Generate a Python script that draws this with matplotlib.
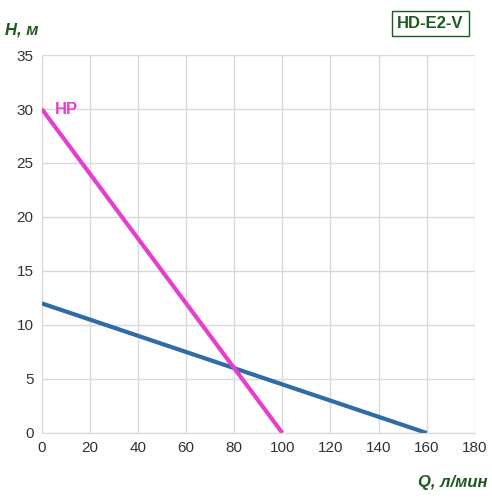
import matplotlib
matplotlib.use("Agg")
import matplotlib.pyplot as plt

# ── Data ──────────────────────────────────────────────────────────────────────
q_blue = [0, 160]
h_blue = [12, 0]
q_hp = [0, 100]
h_hp = [30, 0]

x_ticks = list(range(0, 181, 20))
y_ticks = list(range(0, 36, 5))

GREEN = "#1e5a1e"
BLUE = "#2e6da4"
MAGENTA = "#e83ecf"

plt.rcParams["font.family"] = ["Liberation Sans", "DejaVu Sans"]

fig = plt.figure(figsize=(4.92, 5), dpi=100)
ax = fig.add_axes([0.085, 0.134, 0.88, 0.756])

ax.plot(q_blue, h_blue, color=BLUE, linewidth=3, solid_capstyle="butt")
ax.plot(q_hp, h_hp, color=MAGENTA, linewidth=3, solid_capstyle="butt")

ax.set_xlim(0, 180)
ax.set_ylim(0, 35)
ax.set_xticks(x_ticks)
ax.set_yticks(y_ticks)
ax.tick_params(length=0, labelsize=11, colors="#333333", pad=6)
ax.grid(color="#d9d9d9", linewidth=1)
for side in ["top", "right", "left"]:
    ax.spines[side].set_visible(False)
ax.spines["bottom"].set_color("#d9d9d9")

ax.text(5.5, 30, "HP", color=MAGENTA, fontsize=12, fontweight="bold", va="center")

fig.text(0.01, 0.94, "H, м", color=GREEN, fontsize=12, fontweight="bold",
         style="italic", va="center")
fig.text(0.99, 0.035, "Q, л/мин", color=GREEN, fontsize=12, fontweight="bold",
         style="italic", ha="right", va="center")
fig.text(0.875, 0.953, "HD-E2-V", color=GREEN, fontsize=12, fontweight="bold",
         ha="center", va="center",
         bbox=dict(boxstyle="square,pad=0.3", facecolor="white", edgecolor=GREEN, linewidth=1))

fig.savefig("out.png", dpi=100)
